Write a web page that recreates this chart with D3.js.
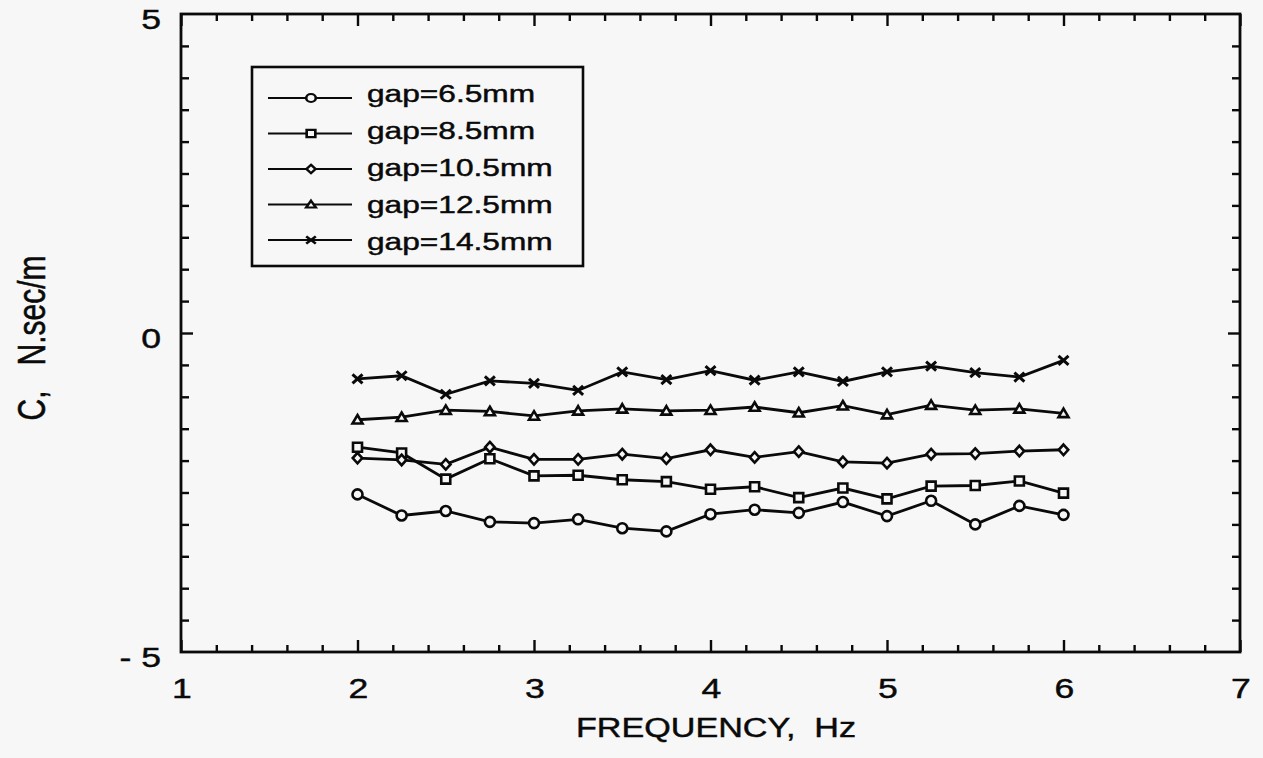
<!DOCTYPE html>
<html><head><meta charset="utf-8">
<script src="https://cdn.jsdelivr.net/npm/d3@7"></script>
<style>html,body{margin:0;padding:0;background:#f7f7f7;} svg{display:block;}</style>
</head><body><svg id="c" width="1263" height="758"></svg>
<script>
// ---- data ----
const freq = [2, 2.25, 2.5, 2.75, 3, 3.25, 3.5, 3.75, 4, 4.25, 4.5, 4.75, 5, 5.25, 5.5, 5.75, 6];
const gap65  = [-2.53,-2.86,-2.79,-2.96,-2.98,-2.92,-3.06,-3.11,-2.84,-2.77,-2.82,-2.65,-2.87,-2.63,-3.00,-2.71,-2.85];
const gap85  = [-1.79,-1.88,-2.29,-1.97,-2.24,-2.23,-2.30,-2.33,-2.45,-2.41,-2.58,-2.43,-2.60,-2.40,-2.39,-2.32,-2.51];
const gap105 = [-1.96,-1.99,-2.06,-1.79,-1.98,-1.98,-1.90,-1.97,-1.83,-1.95,-1.86,-2.02,-2.04,-1.90,-1.89,-1.85,-1.83];
const gap125 = [-1.36,-1.32,-1.21,-1.23,-1.30,-1.22,-1.19,-1.22,-1.21,-1.16,-1.25,-1.14,-1.28,-1.13,-1.21,-1.19,-1.26];
const gap145 = [-0.72,-0.67,-0.96,-0.75,-0.79,-0.90,-0.61,-0.73,-0.59,-0.74,-0.61,-0.76,-0.61,-0.52,-0.62,-0.69,-0.43];
const seriesNames = ["gap=6.5mm","gap=8.5mm","gap=10.5mm","gap=12.5mm","gap=14.5mm"];
const seriesMarkers = ["circle","square","diamond","triangle","x"];
const xTickValues = [1,2,3,4,5,6,7];
const xTickLabels = ["1","2","3","4","5","6","7"];
const yTickValues = [-5,0,5];
const yTickLabels = ["- 5","0","5"];
const xTitle = "FREQUENCY,  Hz";
const yTitle = "C,   N.sec/m";

const seriesValues = [gap65, gap85, gap105, gap125, gap145];

// ---- layout ----
const svg = d3.select("#c");
const bg = "#f7f7f7", ink = "#0a0a0a";
svg.append("rect").attr("width",1263).attr("height",758).attr("fill",bg);
const x = d3.scaleLinear().domain([1,7]).range([181,1240]);
const y = d3.scaleLinear().domain([-5,5]).range([652,14]);
const FONT = "Liberation Sans, Arial, Helvetica, sans-serif";

const xMinor = d3.range(1, 7.0001, 0.2).filter(v => Math.abs(v - Math.round(v)) > 1e-6);
const yMinor = d3.range(-5, 5.0001, 0.5).filter(v => Math.abs(v % 5) > 1e-6);
const yMajor = [0];

function styleAxis(g, w){
  g.select(".domain").remove();
  g.selectAll("line").attr("stroke", ink).attr("stroke-width", w);
  g.selectAll("text").remove();
}
const TW = 2.4;
svg.append("g").attr("transform","translate(0,652)").call(d3.axisBottom(x).tickValues(xMinor).tickSize(-7).tickFormat("")).call(g=>styleAxis(g,TW));
svg.append("g").attr("transform","translate(0,652)").call(d3.axisBottom(x).tickValues(xTickValues).tickSize(-12).tickFormat("")).call(g=>styleAxis(g,TW));
svg.append("g").attr("transform","translate(0,14)").call(d3.axisTop(x).tickValues(xMinor).tickSize(-7).tickFormat("")).call(g=>styleAxis(g,TW));
svg.append("g").attr("transform","translate(0,14)").call(d3.axisTop(x).tickValues(xTickValues).tickSize(-12).tickFormat("")).call(g=>styleAxis(g,TW));
svg.append("g").attr("transform","translate(181,0)").call(d3.axisLeft(y).tickValues(yMinor).tickSize(-8).tickFormat("")).call(g=>styleAxis(g,TW));
svg.append("g").attr("transform","translate(181,0)").call(d3.axisLeft(y).tickValues(yMajor).tickSize(-12).tickFormat("")).call(g=>styleAxis(g,TW));
svg.append("g").attr("transform","translate(1240,0)").call(d3.axisRight(y).tickValues(yMinor).tickSize(-8).tickFormat("")).call(g=>styleAxis(g,TW));
svg.append("g").attr("transform","translate(1240,0)").call(d3.axisRight(y).tickValues(yMajor).tickSize(-12).tickFormat("")).call(g=>styleAxis(g,TW));

svg.append("rect").attr("x",x(1)).attr("y",y(5)).attr("width",x(7)-x(1)).attr("height",y(-5)-y(5))
  .attr("fill","none").attr("stroke",ink).attr("stroke-width",2.8);

function stext(tx, ty, str, size, sx, anchor, rot){
  return svg.append("text")
    .attr("transform", rot ? `translate(${tx},${ty}) rotate(-90) scale(1,${sx})` : `translate(${tx},${ty}) scale(${sx},1)`)
    .attr("text-anchor", anchor).attr("font-family", FONT).attr("font-size", size)
    .attr("fill", ink).attr("stroke", ink).attr("stroke-width", 0.45)
    .style("white-space","pre").text(str);
}
xTickValues.forEach((v,i)=> stext(x(v)+1, 698, xTickLabels[i], 28, 1.27, "middle"));
yTickValues.forEach((v,i)=> stext(161, y(v)+15, yTickLabels[i], 28, 1.27, "end"));
stext(716, 737, xTitle, 28, 1.22, "middle");
stext(45, 338, yTitle, 30, 1.3, "middle", true);

function markerPath(type, s){
  const p = d3.path();
  if(type==="circle"){ p.arc(0,0,s,0,2*Math.PI); }
  else if(type==="square"){ p.rect(-s*0.9,-s*0.9,s*1.8,s*1.8); }
  else if(type==="diamond"){ p.moveTo(0,-s*1.05); p.lineTo(s*0.95,0); p.lineTo(0,s*1.05); p.lineTo(-s*0.95,0); p.closePath(); }
  else if(type==="triangle"){ p.moveTo(0,-s*0.95); p.lineTo(s,s*0.75); p.lineTo(-s,s*0.75); p.closePath(); }
  else if(type==="x"){ p.moveTo(-s,-s*0.9); p.lineTo(s,s*0.9); p.moveTo(s,-s*0.9); p.lineTo(-s,s*0.9); }
  return p.toString();
}

const line = d3.line().x(d=>x(d[0])).y(d=>y(d[1]));
seriesValues.forEach((vals, si)=>{
  const pts = freq.map((f,i)=>[f, vals[i]]);
  svg.append("path").attr("d", line(pts)).attr("fill","none").attr("stroke",ink).attr("stroke-width",2.8);
  svg.append("g").selectAll("path").data(pts).join("path")
    .attr("transform", d=>`translate(${x(d[0])},${y(d[1])})`)
    .attr("d", markerPath(seriesMarkers[si], 5))
    .attr("fill", bg).attr("stroke", ink).attr("stroke-width", seriesMarkers[si]==="x" ? 3 : 2.6);
});

const lg = svg.append("g");
lg.append("rect").attr("x",252).attr("y",67).attr("width",331).attr("height",199)
  .attr("fill",bg).attr("stroke",ink).attr("stroke-width",2.6);
seriesNames.forEach((name,i)=>{
  const ly = 98 + i*35.5;
  lg.append("line").attr("x1",268).attr("x2",352).attr("y1",ly).attr("y2",ly).attr("stroke",ink).attr("stroke-width",2.2);
  lg.append("path").attr("transform",`translate(311,${ly}) scale(1.2,1)`).attr("d", markerPath(seriesMarkers[i], 4))
    .attr("fill",bg).attr("stroke",ink).attr("stroke-width",2.2);
  stext(367, 102 + i*37, name, 24, 1.32, "start");
});
</script></body></html>
